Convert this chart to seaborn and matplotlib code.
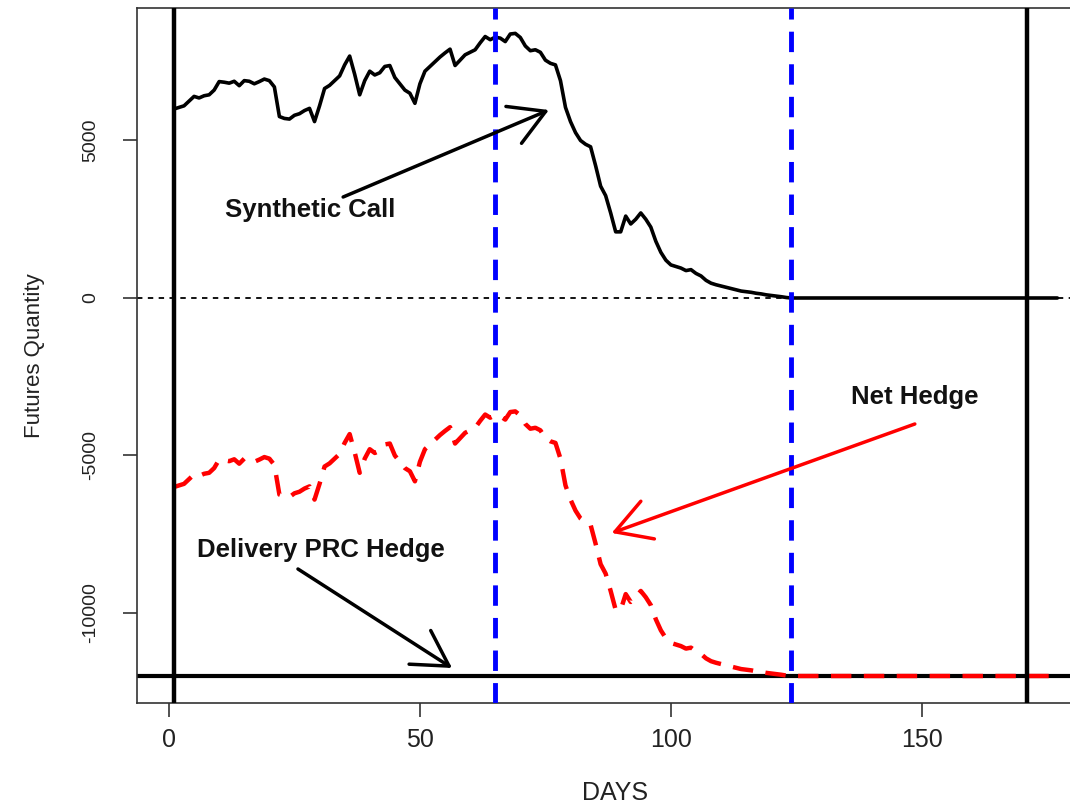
import matplotlib
matplotlib.use("Agg")
import matplotlib.pyplot as plt
import numpy as np
import pandas as pd
import seaborn as sns

# Synthetic call futures quantity, days 1..124 (after which it sits at zero)
synthetic_active = [
    6000, 6050, 6100, 6250, 6400, 6350, 6420, 6450, 6600, 6870,
    6850, 6820, 6880, 6740, 6900, 6880, 6800, 6870, 6950, 6900,
    6700, 5760, 5700, 5680, 5800, 5850, 5950, 6020, 5600, 6100,
    6650, 6750, 6900, 7050, 7400, 7680, 7100, 6450, 6900, 7200,
    7080, 7150, 7350, 7380, 7000, 6800, 6600, 6500, 6180, 6800,
    7200, 7350, 7500, 7650, 7780, 7900, 7380, 7550, 7720, 7800,
    7880, 8100, 8300, 8200, 8280, 8250, 8140, 8380, 8400, 8270,
    8000, 7850, 7880, 7800, 7550, 7450, 7400, 6900, 6050, 5600,
    5250, 5000, 4880, 4800, 4200, 3550, 3250, 2700, 2100, 2100,
    2600, 2350, 2500, 2700, 2500, 2250, 1800, 1450, 1200, 1050,
    1000, 950, 870, 900, 780, 700, 560, 470, 420, 380,
    340, 300, 260, 220, 200, 180, 150, 130, 100, 80,
    60, 40, 15, 0,
]
last_day = 177
delivery_hedge = -12000           # Delivery PRC hedge quantity
start_day, end_day = 1, 171       # contract window
window_days = [65, 124]           # blue markers

days = np.arange(1, last_day + 1)
synthetic = np.array(synthetic_active + [0] * (last_day - len(synthetic_active)), dtype=float)
df = pd.DataFrame({"day": days, "synthetic": synthetic,
                   "net": synthetic + delivery_hedge})

sns.set_style("ticks")
plt.rcParams["font.family"] = ["Liberation Sans", "DejaVu Sans"]

fig = plt.figure(figsize=(10.70, 8.09), dpi=100)
ax = fig.add_axes([137 / 1070, 106 / 809, (1093 - 137) / 1070, 695 / 809])

ax.axhline(0, color="black", lw=1.3, linestyle=(0, (3, 3)), zorder=1)
sns.lineplot(data=df, x="day", y="synthetic", color="black", lw=2.6, ax=ax, zorder=3)
ax.axhline(delivery_hedge, color="black", lw=3, zorder=2)
sns.lineplot(data=df, x="day", y="net", color="red", lw=3.2,
             linestyle=(0, (4.6, 2.8)), ax=ax, zorder=4)
for d in (start_day, end_day):
    ax.axvline(d, color="black", lw=3.2, zorder=5)
for d in window_days:
    ax.axvline(d, color="blue", lw=3.5, linestyle=(0, (4.2, 2.5)), zorder=6)

ax.set_xlim(-6.37, 184.1)
ax.set_ylim(-12857, 9206)
ax.set_xticks([0, 50, 100, 150])
ax.set_yticks([-10000, -5000, 0, 5000])
ax.set_yticklabels(["-10000", "-5000", "0", "5000"], rotation=90, va="center")
ax.tick_params(axis="both", direction="out", length=10, width=1.1, color="#222222",
               labelcolor="#222222", bottom=True, left=True)
ax.tick_params(axis="x", pad=8, labelsize=18)
ax.tick_params(axis="y", pad=17, labelsize=14)
for s in ax.spines.values():
    s.set_color("#333333")
    s.set_linewidth(1.2)

ax.set_xlabel("DAYS", fontsize=18, color="#222222", labelpad=21)
ax.set_ylabel("Futures Quantity", fontsize=16, color="#222222", labelpad=27)

arrow = dict(arrowstyle="->,head_length=1.25,head_width=0.72", lw=2.5,
             shrinkA=0, shrinkB=0, mutation_scale=20)
ax.annotate("", xy=(75.7, 5968), xytext=(34.7, 3206),
            arrowprops=dict(arrow, color="black"), zorder=7)
ax.annotate("", xy=(88.2, -7460), xytext=(148.6, -4000),
            arrowprops=dict(arrow, color="red"), zorder=7)
ax.annotate("", xy=(56.4, -11746), xytext=(25.7, -8603),
            arrowprops=dict(arrow, color="black"), zorder=7)

txt = dict(fontsize=18.5, fontweight="bold", color="#111111", ha="center", va="center")
ax.text(28.1, 2794, "Synthetic Call", **txt)
ax.text(148.6, -3143, "Net Hedge", **txt)
ax.text(30.3, -8000, "Delivery PRC Hedge", **txt)

fig.savefig("out.png", dpi=100)
